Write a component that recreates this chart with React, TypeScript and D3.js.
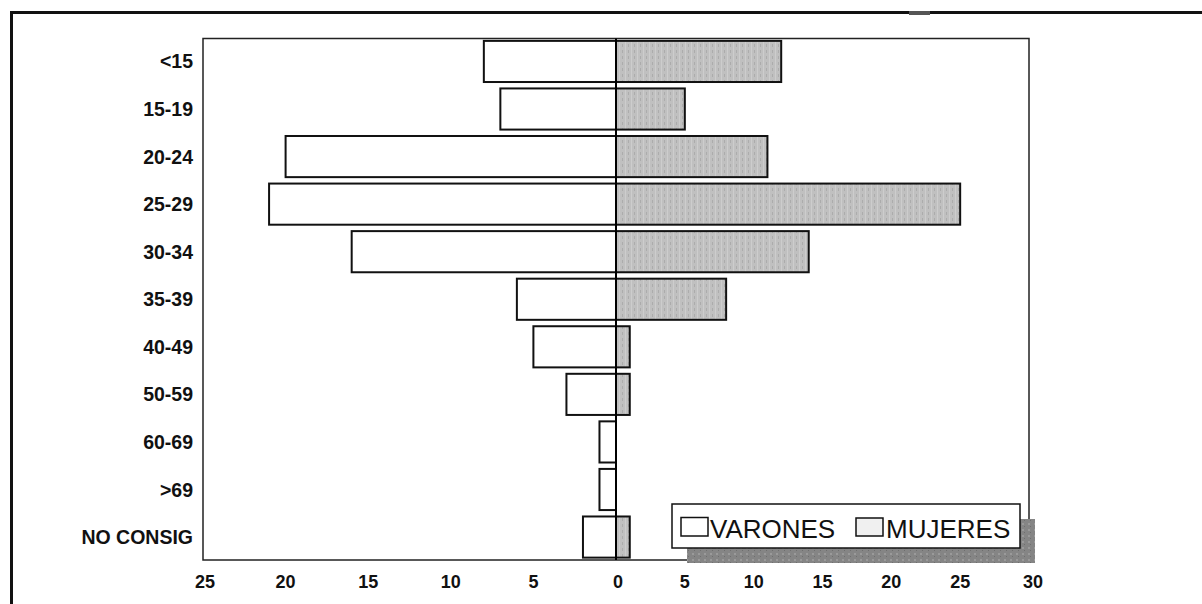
import React from "react";
import * as d3 from "d3";

const categories = ["<15", "15-19", "20-24", "25-29", "30-34", "35-39", "40-49", "50-59", "60-69", ">69", "NO CONSIG"];
const varones = [8, 7, 20, 21, 16, 6, 5, 3, 1, 1, 2];
const mujeres = [12, 5, 11, 25, 14, 8, 1, 1, 0, 0, 1];
const leftTicks = [25, 20, 15, 10, 5];
const rightTicks = [0, 5, 10, 15, 20, 25, 30];

const W = 1202;
const H = 604;
const FONT = "'Liberation Sans', Arial, Helvetica, sans-serif";

export default function App() {
  const plot = { left: 203, right: 1029, top: 38.5, bottom: 560 };
  const x = d3.scaleLinear().domain([-25, 0, 30]).range([plot.left, 616, plot.right]);
  const y = d3
    .scaleBand<string>()
    .domain(categories)
    .range([plot.top, plot.bottom])
    .paddingInner(0.135)
    .paddingOuter(0.05);
  const bw = y.bandwidth();

  const ticks = [...leftTicks.map((t) => ({ v: -t, label: String(t) })), ...rightTicks.map((t) => ({ v: t, label: String(t) }))];

  const legend = { x: 672, y: 504, w: 348, h: 44 };

  return (
    <svg width={W} height={H} style={{ position: "absolute", left: 0, top: 0, background: "#fff" }}>
      <defs>
        <pattern id="muj" width="6" height="6" patternUnits="userSpaceOnUse">
          <rect width="6" height="6" fill="#c0c0c0" />
          <rect x="1" y="0" width="1" height="6" fill="#cdcdcd" />
          <rect x="4" y="2" width="1" height="3" fill="#acacac" />
        </pattern>
        <pattern id="shadow" width="6" height="6" patternUnits="userSpaceOnUse">
          <rect width="6" height="6" fill="#858585" />
          <rect x="2" y="1" width="2" height="2" fill="#9a9a9a" />
          <rect x="4" y="4" width="1" height="1" fill="#6e6e6e" />
        </pattern>
      </defs>

      {/* outer frame */}
      <path d={`M11.5,${H} L11.5,12.5 L${W},12.5`} fill="none" stroke="#111" strokeWidth={3} />
      <rect x={909} y={11} width={21} height={4} fill="#555" />

      {/* plot frame */}
      <rect
        x={plot.left}
        y={plot.top}
        width={plot.right - plot.left}
        height={plot.bottom - plot.top}
        fill="none"
        stroke="#222"
        strokeWidth={1.5}
      />

      {/* bars */}
      {categories.map((c, i) => (
        <g key={c}>
          <rect
            x={x(-varones[i])}
            y={y(c)}
            width={x(0) - x(-varones[i])}
            height={bw}
            fill="#fff"
            stroke="#111"
            strokeWidth={2}
          />
          {mujeres[i] > 0 && (
            <rect
              x={x(0)}
              y={y(c)}
              width={x(mujeres[i]) - x(0)}
              height={bw}
              fill="url(#muj)"
              stroke="#111"
              strokeWidth={2}
            />
          )}
        </g>
      ))}

      {/* zero line */}
      <line x1={x(0)} x2={x(0)} y1={plot.top} y2={plot.bottom} stroke="#000" strokeWidth={2} />

      {/* category labels */}
      {categories.map((c) => (
        <text
          key={c}
          x={193}
          y={(y(c) as number) + bw / 2}
          dy="0.36em"
          textAnchor="end"
          fontFamily={FONT}
          fontWeight="bold"
          fontSize={19.5}
          fill="#111"
        >
          {c}
        </text>
      ))}

      {/* x tick labels */}
      {ticks.map((t, i) => (
        <text
          key={i}
          x={x(t.v) + (t.v === -25 ? 2 : t.v === 30 ? 4 : t.v === 0 ? 2 : 0)}
          y={588}
          textAnchor="middle"
          fontFamily={FONT}
          fontWeight="bold"
          fontSize={18}
          fill="#111"
        >
          {t.label}
        </text>
      ))}

      {/* legend */}
      <rect x={legend.x + 15} y={legend.y + 15} width={legend.w} height={legend.h} fill="url(#shadow)" />
      <rect x={legend.x} y={legend.y} width={legend.w} height={legend.h} fill="#fff" stroke="#111" strokeWidth={1.5} />
      <rect x={681} y={517.5} width={27} height={18.5} fill="#fff" stroke="#111" strokeWidth={1.5} />
      <text x={710} y={538} fontFamily={FONT} fontSize={26} fill="#111">
        VARONES
      </text>
      <rect x={856} y={518} width={27} height={18} fill="#f0f0f0" stroke="#111" strokeWidth={1.5} />
      <text x={886} y={538} fontFamily={FONT} fontSize={26} fill="#111">
        MUJERES
      </text>
    </svg>
  );
}
